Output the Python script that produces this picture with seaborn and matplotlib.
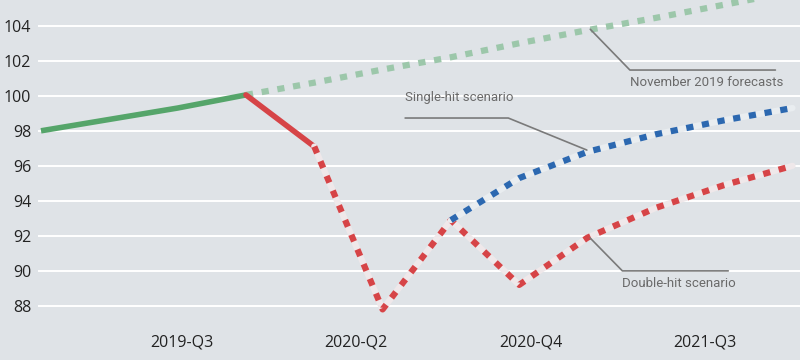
import numpy as np
import pandas as pd
import matplotlib.pyplot as plt
import seaborn as sns

# quarterly index, 2019-Q1 .. 2021-Q4
quarters = ['2019-Q1', '2019-Q2', '2019-Q3', '2019-Q4',
            '2020-Q1', '2020-Q2', '2020-Q3', '2020-Q4',
            '2021-Q1', '2021-Q2', '2021-Q3', '2021-Q4']
history = [98.0, 98.65, 99.3, 100.05]                     # Q1..Q4 2019
nov_forecast = [100.05, 100.75, 101.5, 102.2, 103.0, 103.75, 104.45, 105.2, 105.95]  # 2019-Q4..
double_solid = [100.05, 97.1]                             # 2019-Q4..2020-Q1
double_hit = [97.1, 87.8, 92.9, 89.2, 91.9, 93.6, 94.9, 96.0]  # 2020-Q1..
single_hit = [92.9, 95.3, 96.8, 97.8, 98.6, 99.3]         # 2020-Q3..
tick_labels = ['2019-Q3', '2020-Q2', '2020-Q4', '2021-Q3']

bg = '#dfe3e7'
sns.set_theme(style='whitegrid', rc={
    'axes.facecolor': bg, 'figure.facecolor': bg,
    'grid.color': 'white', 'grid.linewidth': 1.4,
    'axes.edgecolor': bg,
})
plt.rcParams['font.family'] = ['Open Sans', 'DejaVu Sans']

fig = plt.figure(figsize=(8, 3.6), dpi=100)
ax = fig.add_axes([0.0475, 0.106, 0.9525, 0.894])

idx = np.arange(len(quarters))
dots = (0, (1.15, 1.4))

sns.lineplot(x=idx[3:], y=nov_forecast, ax=ax, color='#9cc7aa', lw=4.5,
             linestyle=dots, dash_capstyle='butt')
sns.lineplot(x=idx[:4], y=history, ax=ax, color='#55a56a', lw=4.0,
             solid_capstyle='butt')
sns.lineplot(x=idx[3:5], y=double_solid, ax=ax, color='#d64447', lw=4.0,
             solid_capstyle='round')
# light halo under the dotted scenarios
sns.lineplot(x=idx[4:], y=double_hit, ax=ax, color='#efe8ea', lw=4.5)
sns.lineplot(x=idx[4:], y=double_hit, ax=ax, color='#d64447', lw=4.5,
             linestyle=dots, dash_capstyle='butt')
sns.lineplot(x=idx[6:], y=single_hit, ax=ax, color='#e9edf0', lw=4.5)
sns.lineplot(x=idx[6:], y=single_hit, ax=ax, color='#2c68b0', lw=4.5,
             linestyle=dots, dash_capstyle='butt')

ax.set_xlim(-0.044, 11.11)
ax.set_ylim(87.09, 105.47)
ax.set_yticks(range(88, 105, 2))
ax.set_xticks([2.06, 4.61, 7.17, 9.72])
ax.set_xticklabels(tick_labels)
ax.grid(axis='x', visible=False)
ax.tick_params(axis='y', length=0, pad=5, labelsize=11.5, labelcolor='#222222')
ax.tick_params(axis='x', direction='in', length=7, width=1.2, color='white',
               pad=9, labelsize=11.5, labelcolor='#222222')
for s in ax.spines.values():
    s.set_visible(False)
ax.set_xlabel('')
ax.set_ylabel('')

# annotations
narrow = ['Roboto', 'DejaVu Sans']
lc = '#7a7a7a'
tc = '#6a6a6a'
ax.plot([8.04, 8.62, 10.75], [103.8, 101.47, 101.47], color=lc, lw=1.2)
ax.text(8.62, 100.78, 'November 2019 forecasts', ha='left', va='center',
        fontsize=9.5, color=tc, family=narrow)
ax.plot([5.33, 6.84, 7.99], [98.73, 98.73, 96.9], color=lc, lw=1.2)
ax.text(5.33, 99.93, 'Single-hit scenario', ha='left', va='center',
        fontsize=9.5, color=tc, family=narrow)
ax.plot([8.04, 8.51, 10.06], [91.87, 90.0, 90.0], color=lc, lw=1.2)
ax.text(8.51, 89.3, 'Double-hit scenario', ha='left', va='center',
        fontsize=9.5, color=tc, family=narrow)

fig.savefig('out.png', dpi=100, facecolor=bg)
